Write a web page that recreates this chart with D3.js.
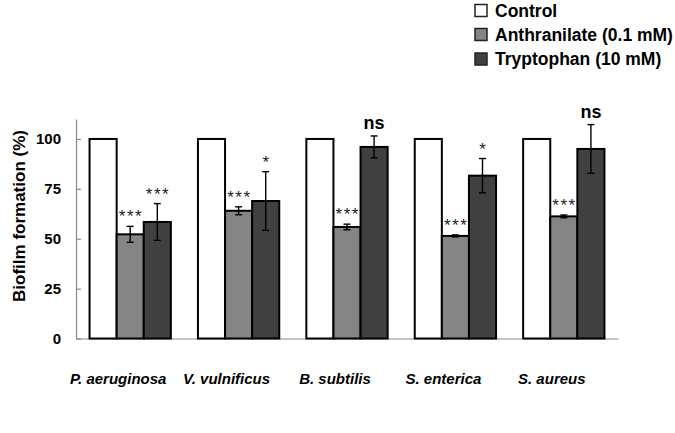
<!DOCTYPE html>
<html>
<head>
<meta charset="utf-8">
<script src="https://cdn.jsdelivr.net/npm/d3@7/dist/d3.min.js"></script>
<style>
  html, body { margin: 0; padding: 0; background: #fff; }
  svg { display: block; font-family: "Liberation Sans", Arial, sans-serif; }
</style>
</head>
<body>
<svg id="chart" width="675" height="433"></svg>
<script>
// ---- data ----
const categories = ["P. aeruginosa", "V. vulnificus", "B. subtilis", "S. enterica", "S. aureus"];
const seriesNames = ["Control", "Anthranilate (0.1 mM)", "Tryptophan (10 mM)"];
const controlValues = [100, 100, 100, 100, 100];
const anthranilateValues = [52.2, 64.0, 55.9, 51.4, 61.2];
const anthranilateErrors = [4.0, 2.0, 1.4, 0.5, 0.7];
const tryptophanValues = [58.4, 68.9, 96.0, 81.6, 95.0];
const tryptophanErrors = [9.2, 14.7, 5.5, 8.6, 12.2];
const anthranilateSig = ["***", "***", "***", "***", "***"];
const tryptophanSig = ["***", "*", "ns", "*", "ns"];
const yTicks = [0, 25, 50, 75, 100];
const yLabel = "Biofilm formation (%)";

const colors = ["#ffffff", "#858585", "#404040"];

const svg = d3.select("#chart");

const x = d3.scaleBand().domain(categories).range([76, 618]).paddingInner(0.25).paddingOuter(0.125);
const xs = d3.scaleBand().domain(seriesNames).range([0, x.bandwidth()]);
const y = d3.scaleLinear().domain([0, 110]).range([338.5, 119]);

const seriesVals = [controlValues, anthranilateValues, tryptophanValues];
const seriesErrs = [null, anthranilateErrors, tryptophanErrors];
const seriesSig = [null, anthranilateSig, tryptophanSig];

const rows = [];
categories.forEach((c, i) => {
  seriesNames.forEach((s, j) => {
    rows.push({cat: c, ser: s, j, v: seriesVals[j][i], e: seriesErrs[j] ? seriesErrs[j][i] : null, sig: seriesSig[j] ? seriesSig[j][i] : null});
  });
});

// axes
const yAxis = d3.axisLeft(y).tickValues(yTicks).tickSizeInner(-5).tickSizeOuter(0).tickPadding(15);
const gy = svg.append("g").attr("transform", "translate(76,0)").call(yAxis);
gy.select(".domain").attr("stroke", "#8a8a8a").attr("stroke-width", 1.2);
gy.selectAll(".tick line").attr("stroke", "#8a8a8a").attr("stroke-width", 1.2);
gy.selectAll(".tick text").attr("fill", "#000").style("font-size", "15px").style("font-weight", "bold")
  .style("font-family", "'Liberation Sans', Arial, sans-serif");

const xAxis = d3.axisBottom(x).tickSize(0).tickFormat("");
const gx = svg.append("g").attr("transform", `translate(0,${y(0)})`).call(xAxis);
gx.select(".domain").attr("stroke", "#8a8a8a").attr("stroke-width", 1.2);

// bars
const bars = svg.append("g");
bars.selectAll("rect").data(rows).join("rect")
  .attr("x", d => x(d.cat) + xs(d.ser))
  .attr("y", d => y(d.v))
  .attr("width", xs.bandwidth())
  .attr("height", d => y(0) - y(d.v))
  .attr("fill", d => colors[d.j])
  .attr("stroke", "#000")
  .attr("stroke-width", 2);

// error bars
const errRows = rows.filter(d => d.e != null);
const eg = svg.append("g").attr("stroke", "#000").attr("stroke-width", 1.4);
errRows.forEach(d => {
  const cx = x(d.cat) + xs(d.ser) + xs.bandwidth() / 2;
  eg.append("line").attr("x1", cx).attr("x2", cx).attr("y1", y(d.v + d.e)).attr("y2", y(d.v - d.e));
  eg.append("line").attr("x1", cx - 3.5).attr("x2", cx + 3.5).attr("y1", y(d.v + d.e)).attr("y2", y(d.v + d.e));
  eg.append("line").attr("x1", cx - 3.5).attr("x2", cx + 3.5).attr("y1", y(d.v - d.e)).attr("y2", y(d.v - d.e));
});

// significance labels
errRows.forEach(d => {
  const cx = x(d.cat) + xs(d.ser) + xs.bandwidth() / 2;
  const top = y(d.v + d.e);
  if (d.sig === "ns") {
    svg.append("text").attr("x", cx).attr("y", top - 7).attr("text-anchor", "middle")
      .style("font-size", "18px").style("font-weight", "bold").text(d.sig);
  } else {
    svg.append("text").attr("x", cx + 0.75).attr("y", top - 4).attr("text-anchor", "middle")
      .style("font-size", "17px").style("letter-spacing", "1.5px").attr("fill", "#222").text(d.sig);
  }
});

// x labels
const xl = svg.append("g");
categories.forEach(c => {
  xl.append("text")
    .attr("x", x(c) + x.bandwidth() / 2 - 12)
    .attr("y", 384)
    .attr("text-anchor", "middle")
    .style("font-size", "15px").style("font-weight", "bold").style("font-style", "italic")
    .text(c);
});

// y label
svg.append("text")
  .attr("transform", "translate(25,216) rotate(-90)")
  .attr("text-anchor", "middle")
  .style("font-size", "17px").style("font-weight", "bold")
  .text(yLabel);

// legend
const leg = svg.append("g");
const legY = [10.5, 34.5, 59];
seriesNames.forEach((s, j) => {
  leg.append("rect").attr("x", 475).attr("y", legY[j] - 6).attr("width", 12).attr("height", 12)
    .attr("fill", colors[j]).attr("stroke", "#222").attr("stroke-width", 1.5);
  leg.append("text").attr("x", 495).attr("y", legY[j] + 6)
    .style("font-size", "17.5px").style("font-weight", "bold").text(s);
});
</script>
</body>
</html>
